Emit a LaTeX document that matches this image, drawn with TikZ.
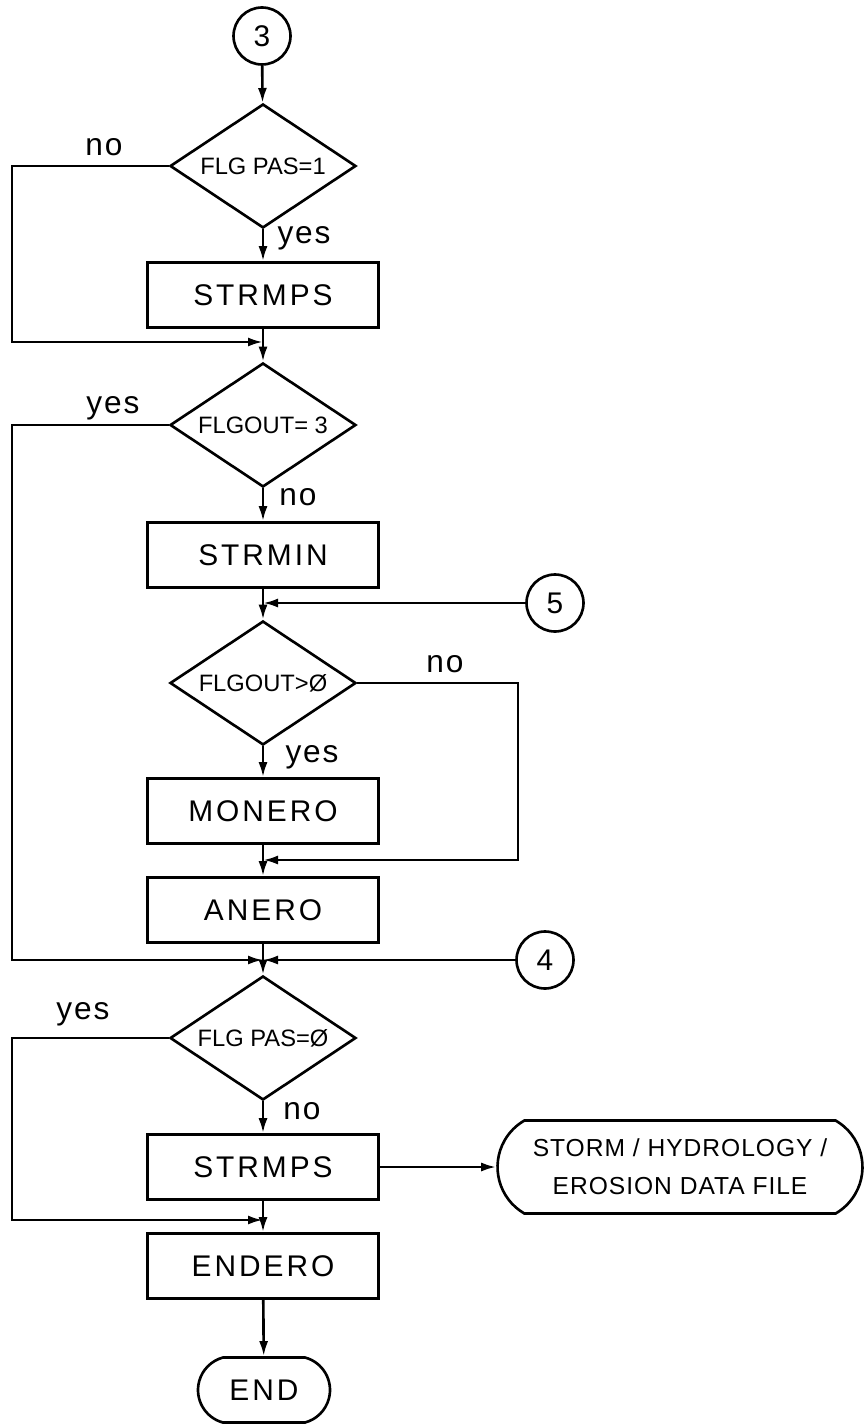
\documentclass[tikz,border=0pt]{standalone}
\usepackage{fontspec}
\setmainfont{Liberation Sans}
\newfontfamily\boxfont[LetterSpace=10]{Liberation Sans}
\newfontfamily\lblfont[LetterSpace=6]{Liberation Sans}
\newfontfamily\filefont[LetterSpace=4]{Liberation Sans}
\usepackage{tikz}
\usetikzlibrary{arrows.meta, positioning, shapes.geometric, shapes.misc}

\begin{document}
\begin{tikzpicture}[x=0.02cm, y=-0.02cm, line width=1.5pt,
  proc/.style={draw, rectangle, minimum width=4.62cm, minimum height=1.3cm, inner sep=0pt, font=\boxfont\fontsize{17}{20}\selectfont},
  decision/.style={draw, diamond, shape aspect=1.5, minimum width=3.72cm, minimum height=2.48cm, inner sep=0pt, font=\fontsize{13.5}{15}\selectfont},
  conn/.style={draw, circle, minimum size=1.14cm, inner sep=0pt, font=\fontsize{17}{20}\selectfont},
  term/.style={draw, rounded rectangle, rounded rectangle arc length=150, inner sep=0pt, font=\boxfont\fontsize{17}{20}\selectfont},
  lbl/.style={inner sep=0pt, font=\lblfont\fontsize{18}{20}\selectfont},
  arr/.style={-{Latex[length=3mm, width=1.8mm]}}]

\useasboundingbox (0,0) rectangle (865,1425);

% left and right return lines
\coordinate (xl) at (12,0);
\coordinate (xr) at (518,0);

% ---- first block ----
\node[conn] (c3) at (262,36) {3};
\node[decision] (d1) at (263,166) {FLG PAS=1};
\node[proc] (b1) at (263,295) {STRMPS};
\coordinate (j1) at (263,342);
\node[lbl] (no1) at (104,147) {no};
\node[lbl] (yes1) at (304,238) {yes};

\draw[arr] (c3) -- (d1);
\draw[arr] (d1) -- (b1);
\draw[arr] (d1.west) -- (d1.west -| xl) |- (j1);
\draw (b1) -- (j1);

% ---- second block ----
\node[decision] (d2) at (263,425) {FLGOUT= 3};
\node[proc] (b2) at (263,555) {STRMIN};
\node[lbl] (yes2) at (113,408) {yes};
\node[lbl] (no2) at (298,497) {no};

\draw[arr] (j1) -- (d2);
\draw[arr] (d2) -- (b2);

% ---- third block ----
\coordinate (j2) at (263,603);
\node[conn] (c5) at (555,603) {5};
\node[decision] (d3) at (263,683) {FLGOUT>Ø};
\node[proc] (b3) at (263,811) {MONERO};
\coordinate (j3) at (263,860);
\node[proc] (b4) at (263,910) {ANERO};
\node[lbl] (no3) at (445,664) {no};
\node[lbl] (yes3) at (312,757) {yes};

\draw (b2) -- (j2);
\draw[arr] (c5) -- (j2);
\draw[arr] (j2) -- (d3);
\draw[arr] (d3) -- (b3);
\draw[arr] (d3.east) -- (d3.east -| xr) |- (j3);
\draw (b3) -- (j3);
\draw[arr] (j3) -- (b4);

% ---- fourth block ----
\coordinate (j4) at (263,960);
\node[conn] (c4) at (545,960) {4};
\node[decision] (d4) at (263,1038) {FLG PAS=Ø};
\node[proc] (b5) at (263,1167) {STRMPS};
\node[term, rounded rectangle arc length=120, minimum width=7.3cm, minimum height=1.86cm, align=center,
  font=\filefont\fontsize{14}{21.5}\selectfont] (file) at (680,1167) {STORM / HYDROLOGY /\\EROSION DATA FILE};
\coordinate (j5) at (263,1220);
\node[proc] (b6) at (263,1266) {ENDERO};
\node[term, minimum width=2.64cm, minimum height=1.3cm] (fin) at (264,1390) {END};
\node[lbl] (yes4) at (83,1014) {yes};
\node[lbl] (no4) at (302,1111) {no};

\draw[arr] (d2.west) -- (d2.west -| xl) |- (j4);
\draw (b4) -- (j4);
\draw[arr] (c4) -- (j4);
\draw[arr] (j4) -- (d4);
\draw[arr] (d4) -- (b5);
\draw[arr] (d4.west) -- (d4.west -| xl) |- (j5);
\draw[arr] (b5) -- (file);
\draw (b5) -- (j5);
\draw[arr] (j5) -- (b6);
\draw[arr] (b6) -- (fin);

\end{tikzpicture}
\end{document}
